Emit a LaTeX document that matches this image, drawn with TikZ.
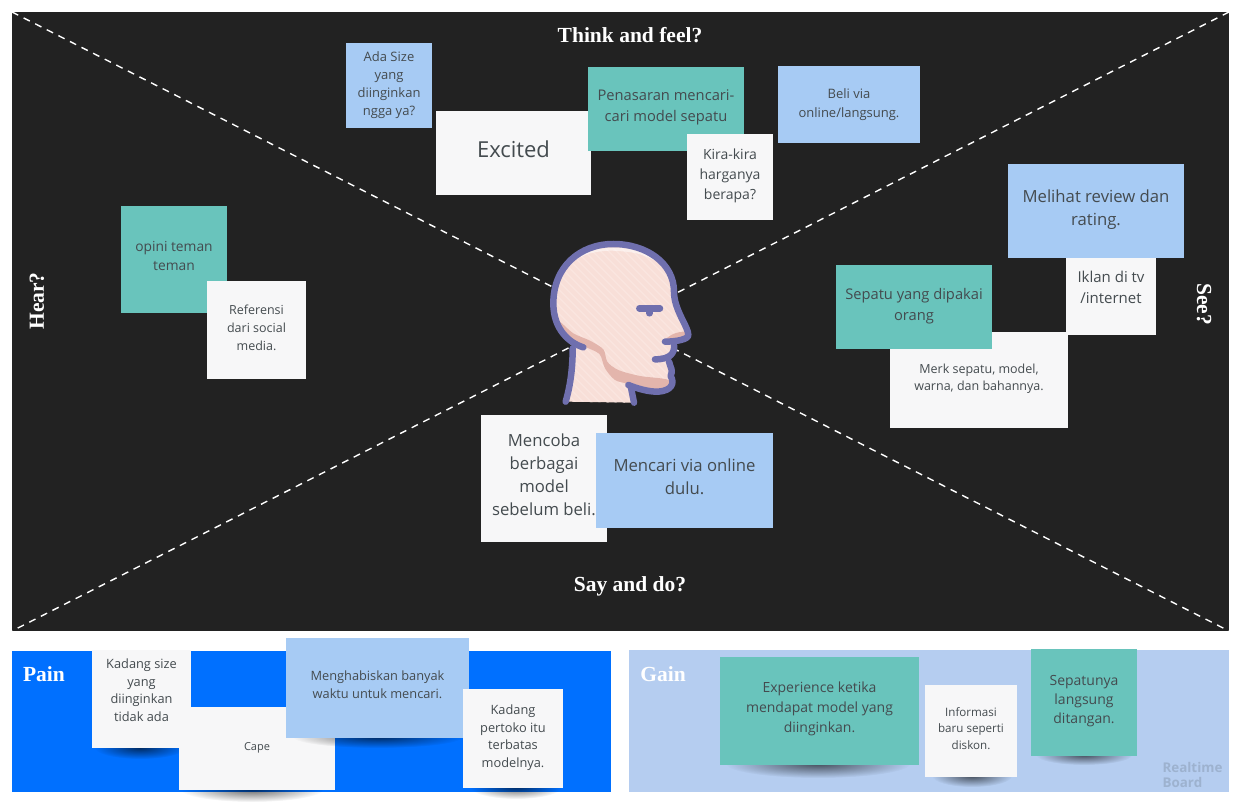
\documentclass[tikz,border=0pt]{standalone}
\usepackage{fontspec}
\setmainfont{Open Sans}
\newfontfamily\titlefont{Liberation Serif}
\usetikzlibrary{fadings}
\tikzfading[name=softfade, inner color=transparent!0, outer color=transparent!100]
\definecolor{boardgray}{HTML}{222222}
\definecolor{painblue}{HTML}{0070FF}
\definecolor{gainblue}{HTML}{B5CDF0}
\definecolor{noteteal}{HTML}{69C4BC}
\definecolor{noteblue}{HTML}{A7CBF4}
\definecolor{notewhite}{HTML}{F7F7F8}
\definecolor{notetext}{HTML}{444B4F}
\definecolor{headline}{HTML}{6F6FAE}
\definecolor{headskin}{HTML}{F8DFD8}
\definecolor{headstripe}{HTML}{FAE5DF}
\definecolor{headshade}{HTML}{E3B5AC}
\definecolor{logogray}{HTML}{9DB2CF}
\newcommand{\notelines}[2]{\raisebox{#1}[\height][\depth]{\begin{tabular}{@{}c@{}}#2\end{tabular}}}
\newcommand{\headshape}{(137,545) .. controls (150,500) and (158,450) .. (158,378) .. controls (120,350) and (100,310) .. (100,250) .. controls (100,140) and (180,72) .. (280,72) .. controls (380,72) and (462,130) .. (462,215) .. controls (462,270) and (505,320) .. (505,345) .. controls (505,358) and (480,362) .. (462,365) -- (462,375) .. controls (465,400) and (455,415) .. (447,425) .. controls (452,445) and (460,450) .. (452,468) .. controls (465,490) and (455,512) .. (415,515) .. controls (385,516) and (360,510) .. (333,503) -- (342,548) -- cycle}
\tikzset{
    panel/.style={
           rectangle,
           inner sep=0pt,
           outer sep=0pt,
           },
    note/.style={
           rectangle,
           inner sep=0pt,
           outer sep=0pt,
           text=notetext,
           },
    teal/.style={note, fill=noteteal},
    sky/.style={note, fill=noteblue},
    paper/.style={note, fill=notewhite},
    softshadow/.style={black, opacity=0.6, path fading=softfade},
    txt/.style 2 args={font=\fontsize{#1}{#2}\selectfont},
    heading/.style={
           text=white,
           font=\titlefont\bfseries\fontsize{21.5}{24}\selectfont,
           },
    cross/.style={white, line width=1.4pt, dash pattern=on 7pt off 6pt},
    headstroke/.style={headline, line width=6.5pt, line cap=round, line join=round},
}
\begin{document}
\begin{tikzpicture}[x=1pt, y=-1pt]
	\useasboundingbox (0,0) rectangle (1241,805);
	
	\node[panel, fill=boardgray, minimum width=1217pt, minimum height=619pt] (board) at (620.5,321.5) {};
	\node[panel, fill=painblue, minimum width=599pt, minimum height=141pt] (painpanel) at (311.5,721.5) {};
	\node[panel, fill=gainblue, minimum width=600pt, minimum height=142pt] (gainpanel) at (929,721) {};
	
	\draw[cross] (board.north west) -- (board.south east);
	\draw[cross] (board.north east) -- (board.south west);
	
	\node[heading] (think) at (630,35) {Think and feel?};
	\node[heading] (say) at (630,586) {Say and do?};
	\node[heading, rotate=90] (hear) at (37,301) {Hear?};
	\node[heading, rotate=-90] (see) at (1204,304) {See?};
	\node[heading] (pain) at (44,674) {Pain};
	\node[heading] (gain) at (663,674) {Gain};
	
	% head
	\begin{scope}[shift={(520,220)}, x=0.3333pt, y=-0.3333pt]
		\begin{scope}
			\clip \headshape;
			\fill[headskin] (80,60) rectangle (520,560);
			\foreach \i in {0,...,40} {
				\draw[headstripe, line width=1.5pt] (60+\i*24,560) -- (\i*24-460,40);
			}
			\fill[headshade] plot[smooth cycle] coordinates {(118,305) (160,340) (210,362) (250,388) (262,425) (295,450) (360,468) (445,480) (445,512) (380,512) (325,492) (285,480) (255,445) (238,402) (190,378) (130,345)};
			\fill[headshade] plot[smooth cycle] coordinates {(432,362) (460,342) (495,335) (505,352) (445,368)};
			\fill[white, opacity=0.5] plot[smooth cycle] coordinates {(168,118) (215,90) (290,84) (360,92) (415,125) (350,100) (270,92) (210,100)};
		\end{scope}
		\draw[headstroke] (190,382) .. controls (150,370) and (100,330) .. (100,250) .. controls (100,140) and (180,72) .. (280,72) .. controls (380,72) and (462,130) .. (462,215) .. controls (462,270) and (505,320) .. (505,345) .. controls (505,358) and (470,365) .. (435,365);
		\draw[headstroke] (158,385) .. controls (158,450) and (150,500) .. (137,545);
		\draw[headstroke] (462,375) .. controls (465,400) and (450,418) .. (405,418);
		\draw[headstroke] (447,425) .. controls (452,445) and (460,450) .. (452,468) .. controls (465,490) and (455,512) .. (415,515) .. controls (385,516) and (350,505) .. (325,495);
		\draw[headstroke] (333,503) -- (342,548);
		\draw[headstroke] (358,265) -- (420,265);
		\draw[headstroke] (388,265) -- (388,280);
	\end{scope}
	
	% think and feel
	\node[sky, txt={13}{18}, minimum width=86pt, minimum height=85pt] (size) at (389,85.5) {\notelines{1pt}{Ada Size\\yang\\diinginkan\\ngga ya?}};
	\node[paper, txt={22}{28}, minimum width=155pt, minimum height=83pt] (excited) at (513.5,153) {\notelines{1pt}{Excited}};
	\node[teal, txt={14.7}{21}, minimum width=156pt, minimum height=84pt] (penasaran) at (666,109) {\notelines{2pt}{Penasaran mencari-\\cari model sepatu}};
	\node[paper, txt={14}{20}, minimum width=86pt, minimum height=86pt] (harga) at (730,177) {\notelines{2pt}{Kira-kira\\harganya\\berapa?}};
	\node[sky, txt={13}{19}, minimum width=142pt, minimum height=77pt] (beli) at (849,104.5) {\notelines{0pt}{Beli via\\online/langsung.}};
	
	% see
	\node[paper, txt={15}{21}, minimum width=90pt, minimum height=89pt] (iklan) at (1111,290.5) {\notelines{2pt}{Iklan di tv\\/internet}};
	\node[sky, txt={16.7}{23}, minimum width=176pt, minimum height=94pt] (review) at (1096,211) {\notelines{1.5pt}{Melihat review dan\\rating.}};
	\node[paper, txt={12.5}{17}, minimum width=178pt, minimum height=96pt] (merk) at (979,380) {\notelines{1pt}{Merk sepatu, model,\\warna, dan bahannya.}};
	\node[teal, txt={14.7}{21}, minimum width=156pt, minimum height=84pt] (dipakai) at (914,307) {\notelines{1.5pt}{Sepatu yang dipakai\\orang}};
	
	% hear
	\node[teal, txt={13.8}{19}, minimum width=106pt, minimum height=107pt] (opini) at (174,259.5) {\notelines{2pt}{opini teman\\teman}};
	\node[paper, txt={12.5}{18}, minimum width=99pt, minimum height=98pt] (referensi) at (256.5,330) {\notelines{1.5pt}{Referensi\\dari social\\media.}};
	
	% say and do
	\node[paper, txt={16.7}{23}, minimum width=126pt, minimum height=127pt] (mencoba) at (544,478.5) {\notelines{2.5pt}{Mencoba\\berbagai\\model\\sebelum beli.}};
	\node[sky, txt={16.7}{23}, minimum width=177pt, minimum height=95pt] (online) at (684.5,480.5) {\notelines{2pt}{Mencari via online\\dulu.}};
	
	% pain
	\fill[softshadow] (140,748) ellipse (45pt and 11pt);
	\node[paper, txt={12.8}{17.8}, minimum width=99pt, minimum height=98pt] (kadang) at (141.5,699) {\notelines{7.5pt}{Kadang size\\yang\\diinginkan\\tidak ada}};
	\fill[softshadow] (252,789) ellipse (72pt and 13pt);
	\node[paper, txt={11}{15}, minimum width=156pt, minimum height=83pt] (cape) at (257,748.5) {\notelines{1pt}{Cape}};
	\fill[softshadow] (378,737) ellipse (85pt and 11pt);
	\node[sky, txt={12.8}{18}, minimum width=183pt, minimum height=100pt] (waktu) at (377.5,688) {\notelines{2.5pt}{Menghabiskan banyak\\waktu untuk mencari.}};
	\fill[softshadow] (516,787) ellipse (46pt and 12pt);
	\node[paper, txt={12.8}{17.8}, minimum width=100pt, minimum height=99pt] (toko) at (513,738.5) {\notelines{1pt}{Kadang\\pertoko itu\\terbatas\\modelnya.}};
	
	% gain
	\fill[softshadow] (818,764) ellipse (92pt and 14pt);
	\node[teal, txt={14}{20}, minimum width=199pt, minimum height=108pt] (experience) at (819.5,711) {\notelines{3pt}{Experience ketika\\mendapat model yang\\diinginkan.}};
	\fill[softshadow] (972,776) ellipse (40pt and 11pt);
	\node[paper, txt={11.6}{16.6}, minimum width=92pt, minimum height=92pt] (diskon) at (971,731) {\notelines{1.5pt}{Informasi\\baru seperti\\diskon.}};
	\fill[softshadow] (1084,755) ellipse (48pt and 10pt);
	\node[teal, txt={14}{19}, minimum width=106pt, minimum height=107pt] (sepatunya) at (1084,702.5) {\notelines{2pt}{Sepatunya\\langsung\\ditangan.}};
	
	\node[text=logogray, align=left, inner sep=0pt, font=\bfseries\fontsize{13.4}{15}\selectfont] (logo) at (1192.5,775) {Realtime\\Board};
\end{tikzpicture}
\end{document}
